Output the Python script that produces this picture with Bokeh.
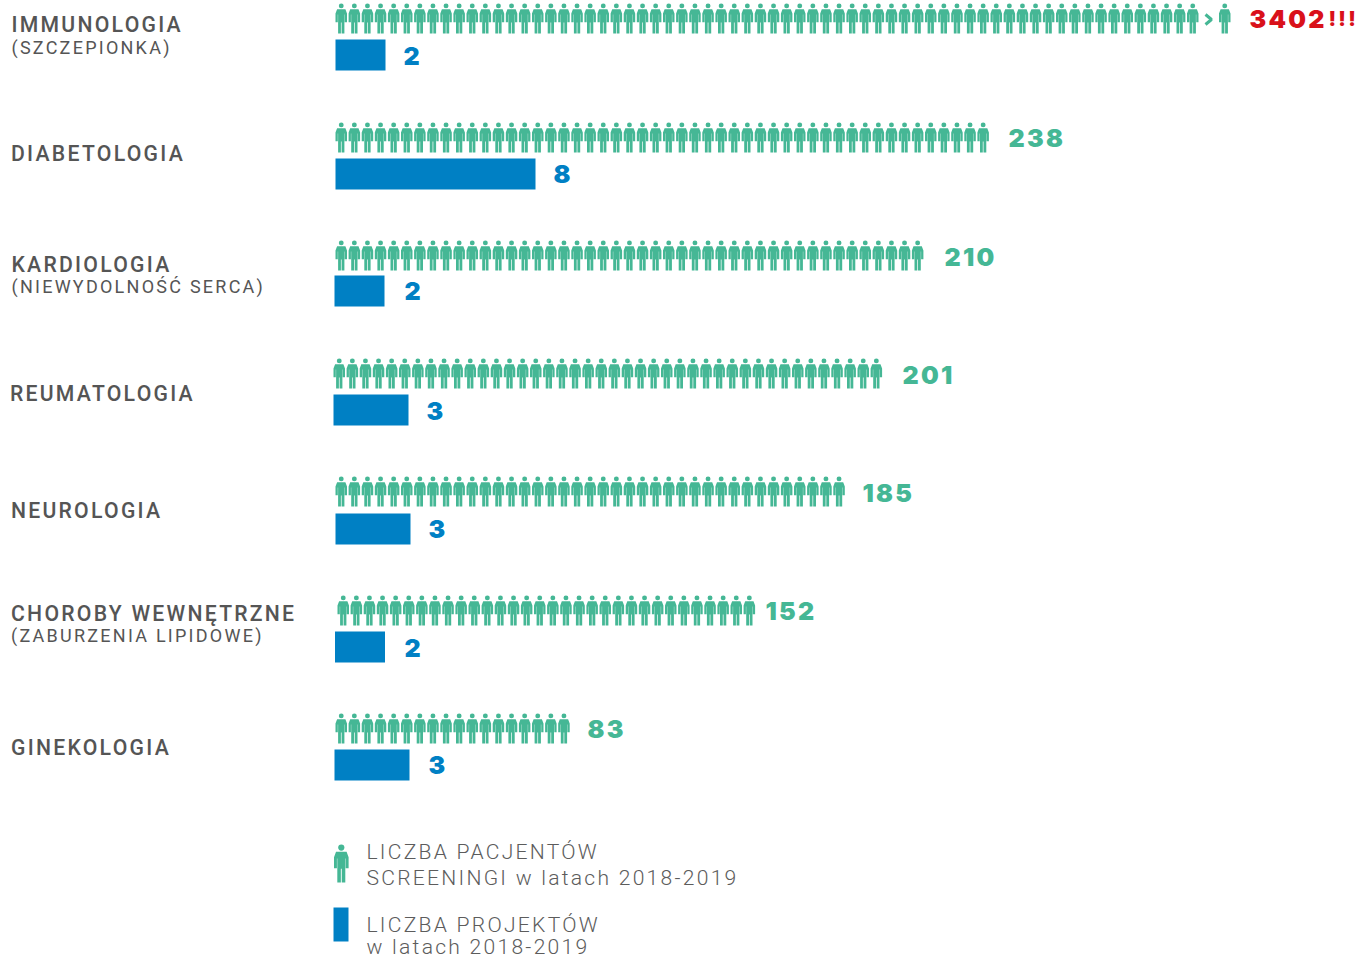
import numpy as np
from bokeh.plotting import figure
from bokeh.embed import file_html
from bokeh.resources import INLINE
from bokeh.core.properties import value
from bokeh.models import Range1d

# ---- data ----
categories = ["IMMUNOLOGIA", "DIABETOLOGIA", "KARDIOLOGIA", "REUMATOLOGIA", "NEUROLOGIA", "CHOROBY WEWNĘTRZNE", "GINEKOLOGIA"]
subtitles = ["(SZCZEPIONKA)", "", "(NIEWYDOLNOŚĆ SERCA)", "", "", "(ZABURZENIA LIPIDOWE)", ""]
patients = [3402, 238, 210, 201, 185, 152, 83]
icons_drawn = [66, 50, 45, 42, 39, 32, 18]
projects = [2, 8, 2, 3, 3, 2, 3]
legend_people = ["LICZBA PACJENTÓW", "SCREENINGI w latach 2018-2019"]
legend_projects = ["LICZBA PROJEKTÓW", "w latach 2018-2019"]

# ---- layout ----
GREEN, BLUE, RED, GREY = "#45b795", "#0080c4", "#d9111a", "#555555"
PITCH, UNIT = 13.1, 25.0
person_x0 = [335, 335, 335, 333, 335, 337, 335]
person_top = [3, 122, 240, 358, 476, 595, 713]
bar_x0 = [335, 335, 334, 333, 335, 334.5, 334]
bar_top = [39, 158, 275, 394, 513, 631, 749]
label_x = [11, 10.5, 11, 9.5, 10.5, 10.5, 10.5]
label_y = [23.5, 152.5, 263.5, 392.5, 509.5, 612.5, 746.5]
sub_y = [47, 0, 286, 0, 0, 635, 0]
num_x = [1249, 1008, 944, 902, 862, 765, 587]
num_y = [18, 137, 256, 374, 492, 610, 728]
pnum_x = [403, 553, 404, 426, 428, 404, 428]
pnum_y = [55, 173, 290, 410, 528, 647, 764]

BODY_X = np.array([0, 1.6, 9.9, 11.5, 11.5, 9.2, 9.2, 8.9, 8.9, 6.1, 6.1, 5.4, 5.4, 2.6, 2.6, 2.3, 2.3, 0])
BODY_Y = np.array([10.0, 5.7, 5.7, 10.0, 18.7, 18.7, 11, 11, 30, 30, 19, 19, 30, 30, 11, 11, 18.7, 18.7])


def person(left, top, s=1.0):
    return list(left + BODY_X * s), list(top + BODY_Y * s), left + 5.75 * s, top + 2.4 * s


p = figure(width=1357, height=957, output_backend="svg", toolbar_location=None,
           x_range=Range1d(0, 1357), y_range=Range1d(957, 0), min_border=0,
           outline_line_color=None, background_fill_color="white")
p.axis.visible = False
p.grid.visible = False
p.styles = {"letter-spacing": "2.25px"}

xs, ys, hx, hy = [], [], [], []
for i, n in enumerate(icons_drawn):
    for k in range(n):
        a, b, c, d = person(person_x0[i] + k * PITCH, person_top[i])
        xs.append(a); ys.append(b); hx.append(c); hy.append(d)
# one more person after the chevron
a, b, c, d = person(1218.5, person_top[0])
xs.append(a); ys.append(b); hx.append(c); hy.append(d)
# legend person
a, b, c, d = person(333.5, 844, 1.27)
xs.append(a); ys.append(b); hx.append(c); hy.append(d)
p.patches(xs, ys, fill_color=GREEN, line_color=None)
sizes = [4.9] * (len(hx) - 1) + [6.2]
p.scatter(hx, hy, size=sizes, marker="circle", fill_color=GREEN, line_color=None)
p.line([1205, 1211, 1205], [14, 19, 24], line_color=GREEN, line_width=3)

left = np.array(bar_x0, dtype=float)
top = np.array(bar_top, dtype=float)
p.quad(left=left, right=left + np.array(projects) * UNIT, top=top, bottom=top + 31,
       fill_color=BLUE, line_color=None)
p.quad(left=[333], right=[348], top=[907], bottom=[941], fill_color=BLUE, line_color=None)

ALPHA = "alphabetic"
NUM_FONT = value("Inter Black")
p.text(label_x, label_y, text=categories, text_font=value("Roboto Medium"), text_baseline=ALPHA,
       text_font_size="21.2px", text_color=GREY)
sx = [x for x, s in zip(label_x, subtitles) if s]
sy = [y for y, s in zip(sub_y, subtitles) if s]
p.text(sx, sy, text=[s for s in subtitles if s], text_font=value("Roboto"), text_baseline=ALPHA,
       text_font_size="18px", text_color=GREY)
p.text(num_x[1:], num_y[1:], text=[str(v) for v in patients[1:]], text_font=NUM_FONT,
       text_baseline=ALPHA, text_font_size="25px", text_color=GREEN)
p.text(num_x[:1], num_y[:1], text=[str(patients[0])], text_font=NUM_FONT,
       text_baseline=ALPHA, text_font_size="25px", text_color=RED)
p.text([1328], num_y[:1], text=["!!!"], text_font=value("Inter Black"), text_baseline=ALPHA,
       text_font_size="20px", text_color=RED)
p.text(pnum_x, pnum_y, text=[str(v) for v in projects], text_font=NUM_FONT,
       text_baseline=ALPHA, text_font_size="25px", text_color=BLUE)
p.text([366, 366], [851, 877], text=legend_people, text_font=value("Roboto Light"), text_baseline=ALPHA,
       text_font_size="21.1px", text_color="#5c5c5c")
p.text([366, 366], [924, 946], text=legend_projects, text_font=value("Roboto Light"), text_baseline=ALPHA,
       text_font_size="21.1px", text_color="#5c5c5c")

open("out.html", "w").write(file_html(p, INLINE))
